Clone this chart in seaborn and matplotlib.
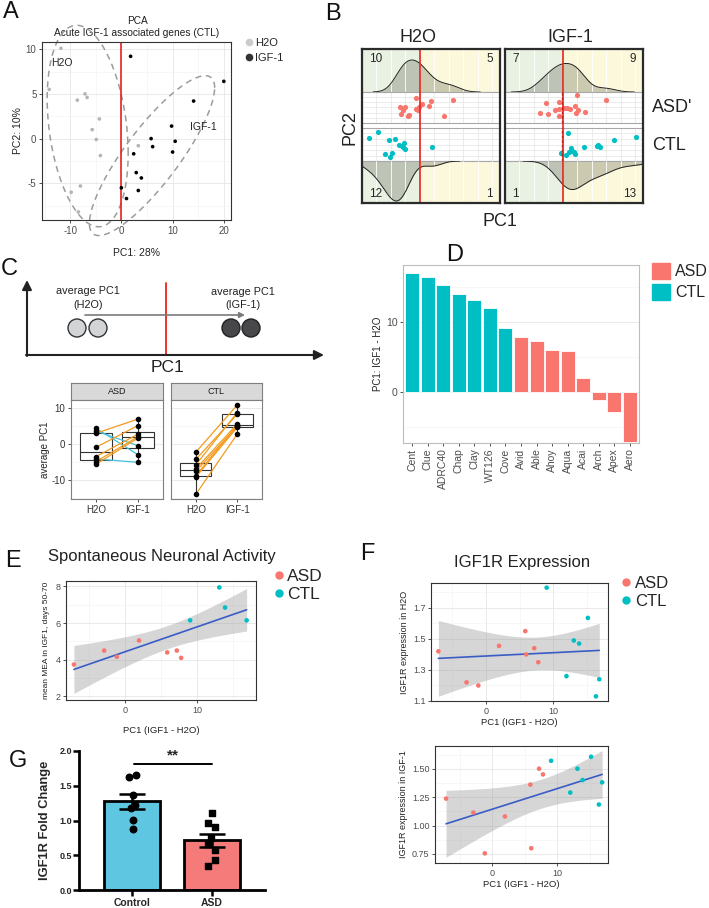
"""
Multi-panel figure: IGF-1 response of ASD / CTL lines (panels A-G)
"""

import numpy as np
import pandas as pd
import matplotlib
matplotlib.use('Agg')
import matplotlib.pyplot as plt
import seaborn as sns
from matplotlib.lines import Line2D
from matplotlib.patches import Circle, Patch

# ---------------- data ----------------
# A: PCA scores, acute IGF-1 associated genes (CTL)
a_h2o_pc1 = [-11.8, -14.1, -8.6, -7.1, -6.7, -4.3, -5.7, -4.9, -4.1, 3.3, -9.8, -8.0, -8.4]
a_h2o_pc2 = [10.1, 5.5, 4.3, 5.0, 4.6, 2.2, 1.0, -0.1, -1.9, -0.8, -6.0, -5.3, -8.2]
a_igf_pc1 = [1.8, 20.0, 14.1, 9.8, 5.8, 10.5, 6.1, 2.4, 10.0, 2.9, 3.9, 3.3, 0.0, 1.0]
a_igf_pc2 = [9.2, 6.4, 4.2, 1.4, 0.0, -0.3, -0.9, -1.7, -1.5, -3.8, -4.4, -5.8, -5.5, -6.7]

# B: projected PC1 / PC2 per condition (PC2 scaled to 0-1 inside each row)
b_h2o_asd_x = [-0.7, 1.9, 5.7, -3.4, -2.6, 0.3, -0.2, -0.7, -0.3, 1.6, -3.3, -2.1, -1.9, 4.1, -2.9]
b_h2o_asd_y = [0.86, 0.76, 0.79, 0.52, 0.52, 0.62, 0.52, 0.45, 0.41, 0.55, 0.24, 0.17, 0.21, 0.17, 0.41]
b_h2o_ctl_x = [-8.8, -7.2, -5.3, -4.3, -3.6, -3.1, -2.8, -2.6, -2.9, -6.0, -4.8, -5.2, 2.1]
b_h2o_ctl_y = [0.72, 0.94, 0.66, 0.69, 0.50, 0.44, 0.56, 0.34, 0.41, 0.16, 0.19, 0.06, 0.41]
b_igf_asd_x = [-2.9, -4.0, -2.6, -1.4, -0.7, -0.7, -0.7, 0.2, 0.7, 1.2, 2.1, 2.6, 3.8, 7.4, 2.4, 2.2]
b_igf_asd_y = [0.66, 0.31, 0.24, 0.41, 0.72, 0.45, 0.17, 0.48, 0.48, 0.45, 0.55, 0.41, 0.34, 0.79, 0.97, 0.31]
b_igf_ctl_x = [0.9, -0.3, 0.5, 1.4, 1.9, 2.1, 3.6, 6.0, 6.4, 8.8, 12.6, 1.6, 1.0, 5.9]
b_igf_ctl_y = [0.91, 0.19, 0.12, 0.38, 0.22, 0.16, 0.41, 0.50, 0.41, 0.66, 0.75, 0.28, 0.25, 0.44]
b_igf_dash_x = -0.2

# C: average PC1 per line, paired H2O -> IGF-1
c_asd_h2o = [4.35, 3.6, 2.96, -0.93, -3.5, -4.2, -4.9, -5.6]
c_asd_igf = [-3.0, -0.5, 6.9, 5.1, 2.7, -5.1, 2.0, 1.6]
c_ctl_h2o = [-2.3, -4.3, -5.8, -6.9, -7.6, -8.8, -9.2, -14.0]
c_ctl_igf = [10.8, 8.2, 8.7, 5.5, 4.9, 5.1, 4.6, 2.7]

# D: PC1 shift (IGF1 - H2O) per line
d_lines = ['Cent', 'Clue', 'ADRC40', 'Chap', 'Clay', 'WT126', 'Cove',
           'Avid', 'Able', 'Ahoy', 'Aqua', 'Acai', 'Arch', 'Apex', 'Aero']
d_group = ['CTL'] * 7 + ['ASD'] * 8
d_pc1 = [16.9, 16.4, 15.2, 13.9, 13.1, 12.0, 9.05, 7.8, 7.2, 6.0, 5.86, 1.95, -1.14, -2.9, -7.1]

# E: MEA activity vs PC1 shift
e_group = ['ASD'] * 7 + ['CTL'] * 4
e_pc1 = [-7.1, -2.9, -1.14, 1.95, 5.86, 7.2, 7.8, 9.05, 13.1, 13.9, 16.9]
e_mea = [3.74, 4.5, 4.16, 5.05, 4.4, 4.5, 4.1, 6.15, 7.95, 6.85, 6.15]

# F: IGF1R expression vs PC1 shift
f_group = ['ASD'] * 8 + ['CTL'] * 7
f_pc1 = [-7.1, -2.9, -1.14, 1.95, 5.86, 6.0, 7.2, 7.8, 9.05, 12.0, 13.1, 13.9, 15.2, 16.4, 16.9]
f_h2o = [1.42, 1.22, 1.20, 1.455, 1.55, 1.40, 1.44, 1.35, 1.83, 1.26, 1.49, 1.47, 1.635, 1.13, 1.24]
f_igf = [1.237, 1.114, 0.755, 1.08, 1.36, 0.80, 1.50, 1.45, 1.57, 1.29, 1.50, 1.40, 1.605, 1.185, 1.38]

# G: IGF1R fold change (qPCR)
g_groups = ['Control', 'ASD']
g_control = [1.63, 1.65, 1.37, 1.22, 1.18, 1.01, 0.88]
g_asd = [1.11, 0.96, 0.90, 0.745, 0.66, 0.577, 0.435, 0.35]
g_control_jit = [-0.04, 0.046, 0.008, 0.04, -0.012, 0.008, 0.008]
g_asd_jit = [-0.004, -0.05, 0.04, -0.017, -0.046, 0.037, 0.04, -0.054]

# ---------------- style ----------------
ASD_COL = '#F8766D'
CTL_COL = '#00BFC4'
RED = '#e8231c'
GREEN = '#e8f1e2'
YELLOW = '#fbf8dc'
T975 = {9: 2.262, 13: 2.160}   # t quantiles for the lm confidence band

sns.set_theme(style='white')
plt.rcParams['font.family'] = ['Liberation Sans', 'DejaVu Sans']
plt.rcParams['axes.unicode_minus'] = False

W, H = 709, 908
fig = plt.figure(figsize=(W / 100, H / 100), dpi=100)


def px_axes(l, t, r, b):
    return fig.add_axes([l / W, 1 - b / H, (r - l) / W, (b - t) / H])


def fx(px):
    return px / W


def fy(py):
    return 1 - py / H


def theme_bw(ax, border='#333333', size=6.5):
    ax.set_facecolor('white')
    for s in ax.spines.values():
        s.set_color(border)
        s.set_linewidth(0.8)
    ax.grid(True, which='major', color='#e6e6e6', lw=0.6)
    ax.grid(True, which='minor', color='#f2f2f2', lw=0.4)
    ax.set_axisbelow(True)
    ax.tick_params(which='major', length=2.5, width=0.6, color='#333333',
                   labelsize=size, pad=1.5, labelcolor='#4d4d4d',
                   bottom=True, left=True)
    ax.tick_params(which='minor', length=0)


def trob_ellipse(xy, level=0.95, nu=2.5, n_seg=150):
    # robust (t) ellipse in the spirit of ggplot2::stat_ellipse
    n, p = xy.shape
    loc = xy.mean(0)
    cov = np.cov(xy.T)
    for _ in range(300):
        d = xy - loc
        m = np.einsum('ij,jk,ik->i', d, np.linalg.inv(cov), d)
        w = (nu + p) / (nu + m)
        loc = (w[:, None] * xy).sum(0) / w.sum()
        d = xy - loc
        cov = (w[:, None] * d).T @ d / n
    dfd = n - 1
    qf = dfd / 2 * ((1 - level) ** (-2 / dfd) - 1)
    radius = np.sqrt(2 * qf)
    ang = np.linspace(0, 2 * np.pi, n_seg)
    circ = np.column_stack([np.cos(ang), np.sin(ang)])
    pts = loc + radius * circ @ np.linalg.cholesky(cov).T
    return pts[:, 0], pts[:, 1]


def lm_band(x, y):
    x = np.asarray(x, float)
    y = np.asarray(y, float)
    n = len(x)
    b, a = np.polyfit(x, y, 1)
    grid = np.linspace(x.min(), x.max(), 80)
    resid = y - (a + b * x)
    s = np.sqrt((resid ** 2).sum() / (n - 2))
    se = s * np.sqrt(1 / n + (grid - x.mean()) ** 2 / ((x - x.mean()) ** 2).sum())
    fit = a + b * grid
    t = T975[n - 2]
    return grid, fit, fit - t * se, fit + t * se


# overlay for letters, schematic and free text
ov = px_axes(0, 0, W, H)
ov.set_xlim(0, W)
ov.set_ylim(H, 0)
ov.axis('off')

for letter, (lx, ly) in {'A': (3, 1), 'B': (325, 3), 'C': (1, 258), 'D': (446, 244),
                         'E': (5, 550), 'F': (360, 543), 'G': (9, 750)}.items():
    ov.text(lx, ly, letter, fontsize=17, ha='left', va='top', color='#111111')

# ---------------- A: PCA ----------------
df_a = pd.DataFrame({
    'PC1': a_h2o_pc1 + a_igf_pc1,
    'PC2': a_h2o_pc2 + a_igf_pc2,
    'treat': ['H2O'] * len(a_h2o_pc1) + ['IGF-1'] * len(a_igf_pc1),
})
a_pal = {'H2O': '#b5b5b5', 'IGF-1': '#000000'}
ax = px_axes(42, 42, 231, 220)
theme_bw(ax, size=7)
sns.scatterplot(df_a, x='PC1', y='PC2', hue='treat', palette=a_pal, s=7,
                linewidth=0, legend=False, ax=ax, zorder=3)
for name, g in df_a.groupby('treat'):
    ex, ey = trob_ellipse(g[['PC1', 'PC2']].to_numpy())
    ax.plot(ex, ey, color='#9c9c9c', ls=(0, (4, 3)), lw=1.1, clip_on=False)
ax.axvline(0, color=RED, lw=1.2, zorder=2)
ax.set_xlim(-15.5, 21.4)
ax.set_ylim(-9.1, 10.8)
ax.set_xticks([-10, 0, 10, 20])
ax.set_xticks([-15, -5, 5, 15], minor=True)
ax.set_yticks([-5, 0, 5, 10])
ax.set_yticks([-7.5, -2.5, 2.5, 7.5], minor=True)
ax.set_xlabel('PC1: 28%', fontsize=7.5, color='#222222', labelpad=9)
ax.set_ylabel('PC2: 10%', fontsize=7.5, color='#222222', labelpad=2)
ax.text(-13.7, 8.4, 'H2O', fontsize=7.5, va='center', color='#222222')
ax.text(13.3, 1.3, 'IGF-1', fontsize=7.5, va='center', color='#222222')
ov.text(137, 21, 'PCA', fontsize=7.3, ha='center', va='center', color='#222222')
ov.text(137, 33, 'Acute IGF-1 associated genes (CTL)', fontsize=7.3, ha='center',
        va='center', color='#222222')
ax.legend(handles=[Line2D([], [], marker='o', ls='', color='#cccccc', ms=4.5, label='H2O'),
                   Line2D([], [], marker='o', ls='', color='#333333', ms=4.5, label='IGF-1')],
          loc='upper left', bbox_to_anchor=(fx(243), fy(38)), bbox_transform=fig.transFigure,
          frameon=False, fontsize=8, handletextpad=0.1, handlelength=1.0,
          labelspacing=0.45, borderaxespad=0, borderpad=0)

# ---------------- B: facetted PC1 densities ----------------
B_XMIN, B_XMAX = -10, 13.8
b_cols = {
    'H2O': (362, 500, b_h2o_asd_x, b_h2o_asd_y, b_h2o_ctl_x, b_h2o_ctl_y),
    'IGF-1': (505, 643, b_igf_asd_x, b_igf_asd_y, b_igf_ctl_x, b_igf_ctl_y),
}
tops, bots = [], []
for treat, (l, r, asd_x, asd_y, ctl_x, ctl_y) in b_cols.items():
    a_top = px_axes(l, 49, r, 92)
    a_asd = px_axes(l, 92, r, 123)
    a_ctl = px_axes(l, 128, r, 161)
    a_bot = px_axes(l, 161, r, 203)
    for a in (a_top, a_asd, a_ctl, a_bot):
        for s in a.spines.values():
            s.set_color('#a8a8a8')
            s.set_linewidth(0.8)
        a.set_xticks(np.arange(-7.5, 13.8, 2.5))
        a.tick_params(length=0, labelbottom=False, labelleft=False)
    for a in (a_top, a_bot):
        a.axvspan(B_XMIN, 0, color=GREEN, zorder=0, lw=0)
        a.axvspan(0, B_XMAX, color=YELLOW, zorder=0, lw=0)
        a.grid(axis='x', color='white', lw=0.6)
        a.set_axisbelow(False)
    for a, xs, ys, col in ((a_asd, asd_x, asd_y, ASD_COL), (a_ctl, ctl_x, ctl_y, CTL_COL)):
        a.set_facecolor('white')
        a.set_yticks([0.1, 0.3, 0.5, 0.7, 0.9])
        a.grid(True, color='#e4e4e4', lw=0.5)
        a.set_axisbelow(True)
        a.scatter(xs, ys, s=14, color=col, linewidth=0, zorder=3)
        a.set_ylim(-0.08, 1.08)
        if treat == 'IGF-1':
            a.axvline(b_igf_dash_x, color='#111111', ls=(0, (2.2, 1.5)), lw=0.9, zorder=4)
    for a, xs in ((a_top, asd_x), (a_bot, ctl_x)):
        sns.kdeplot(x=xs, ax=a, fill=True, color='#4a4e40', alpha=0.27, linewidth=0, zorder=2)
        sns.kdeplot(x=xs, ax=a, color='#222222', linewidth=0.7, zorder=3)
        a.set_xlabel('')
        a.set_ylabel('')
    n_asd_l = sum(v < 0 for v in asd_x)
    n_ctl_l = sum(v < 0 for v in ctl_x)
    a_top.text(0.05, 0.9, str(n_asd_l), transform=a_top.transAxes, fontsize=8.5, va='top')
    a_top.text(0.95, 0.9, str(len(asd_x) - n_asd_l), transform=a_top.transAxes,
               fontsize=8.5, va='top', ha='right')
    a_bot.text(0.05, 0.06, str(n_ctl_l), transform=a_bot.transAxes, fontsize=8.5, va='bottom')
    a_bot.text(0.95, 0.06, str(len(ctl_x) - n_ctl_l), transform=a_bot.transAxes,
               fontsize=8.5, va='bottom', ha='right')
    for a in (a_top, a_asd, a_ctl, a_bot):
        a.set_xlim(B_XMIN, B_XMAX)
    tops.append(a_top)
    bots.append(a_bot)
    frame = px_axes(l, 49, r, 203)
    frame.patch.set_alpha(0)
    frame.set_xlim(B_XMIN, B_XMAX)
    frame.set_ylim(0, 1)
    frame.set_xticks([])
    frame.set_yticks([])
    for s in frame.spines.values():
        s.set_color('#2b2b2b')
        s.set_linewidth(1.6)
    frame.axvline(0, color=RED, lw=1.2)

top_max = max(a.get_ylim()[1] for a in tops)
for a in tops:
    a.set_ylim(0, top_max * 1.28)
bot_max = max(a.get_ylim()[1] for a in bots)
for a in bots:
    a.set_ylim(bot_max * 1.0, 0)

ov.text(418, 38, 'H2O', fontsize=13, ha='center', va='center', color='#222222')
ov.text(570, 38, 'IGF-1', fontsize=13, ha='center', va='center', color='#222222')
ov.text(652, 107, "ASD'", fontsize=13, ha='left', va='center', color='#222222')
ov.text(652, 146, 'CTL', fontsize=13, ha='left', va='center', color='#222222')
ov.text(350, 128, 'PC2', fontsize=13, ha='center', va='center', rotation=90, color='#222222')
ov.text(500, 222, 'PC1', fontsize=13, ha='center', va='center', color='#222222')

# ---------------- C: schematic ----------------
arrow_kw = dict(arrowstyle='-|>', color='#222222', lw=1.5, mutation_scale=14, shrinkA=0, shrinkB=0)
ov.annotate('', xy=(27, 280), xytext=(27, 356), arrowprops=arrow_kw)
ov.annotate('', xy=(324, 355), xytext=(26, 355), arrowprops=arrow_kw)
ov.plot([166, 166], [283, 355], color=RED, lw=1.3)
ov.annotate('', xy=(245, 315), xytext=(85, 315),
            arrowprops=dict(arrowstyle='-|>', color='#7a7a7a', lw=1.2, mutation_scale=8,
                            shrinkA=0, shrinkB=0))
for cx in (77, 98):
    ov.add_patch(Circle((cx, 328), 9, fc='#d3d4d6', ec='#333333', lw=1))
for cx in (231, 251):
    ov.add_patch(Circle((cx, 328), 9, fc='#48484a', ec='#222222', lw=1))
ov.text(88, 291, 'average PC1', fontsize=7.8, ha='center', va='center', color='#222222')
ov.text(88, 305, '(H2O)', fontsize=7.8, ha='center', va='center', color='#222222')
ov.text(243, 292, 'average PC1', fontsize=7.8, ha='center', va='center', color='#222222')
ov.text(243, 305, '(IGF-1)', fontsize=7.8, ha='center', va='center', color='#222222')
ov.text(168, 367, 'PC1', fontsize=12.5, ha='center', va='center', color='#222222')

# ---------------- C: paired boxplots ----------------
for name, l, r, h2o, igf in (('ASD', 71, 163, c_asd_h2o, c_asd_igf),
                             ('CTL', 171, 262, c_ctl_h2o, c_ctl_igf)):
    st = px_axes(l, 383, r, 400)
    st.set_facecolor('#d9d9d9')
    st.set_xticks([])
    st.set_yticks([])
    for s in st.spines.values():
        s.set_color('#7f7f7f')
        s.set_linewidth(0.8)
    st.text(0.5, 0.5, name, transform=st.transAxes, fontsize=6.5, ha='center',
            va='center', color='#1a1a1a')
    ax = px_axes(l, 400, r, 499)
    theme_bw(ax, border='#7f7f7f', size=7)
    df_c = pd.DataFrame({'treat': ['H2O'] * len(h2o) + ['IGF-1'] * len(igf),
                         'pc1': h2o + igf})
    sns.boxplot(df_c, x='treat', y='pc1', order=['H2O', 'IGF-1'], color='white',
                linecolor='#333333', linewidth=0.8, width=0.75, showfliers=False,
                showcaps=False, ax=ax)
    for v0, v1 in zip(h2o, igf):
        ax.plot([0, 1], [v0, v1], color='#f39a1e' if v1 > v0 else '#3fc1dc', lw=0.9, zorder=3)
    ax.scatter([0] * len(h2o) + [1] * len(igf), h2o + igf, s=9, color='black', zorder=4)
    ax.set_xlim(-0.6, 1.6)
    ax.set_ylim(-15.3, 12.2)
    ax.set_yticks([-10, 0, 10])
    ax.set_yticks([-15, -5, 5], minor=True)
    ax.set_xlabel('')
    ax.tick_params(axis='x', labelsize=7, labelcolor='#333333')
    if name == 'ASD':
        ax.set_ylabel('average PC1', fontsize=7, color='#222222', labelpad=1)
        ax.tick_params(axis='y', labelsize=7, labelcolor='#333333')
    else:
        ax.set_ylabel('')
        ax.tick_params(axis='y', left=False, labelleft=False)

# ---------------- D: PC1 shift bars ----------------
df_d = pd.DataFrame({'line': d_lines, 'group': d_group, 'pc1': d_pc1})
ax = px_axes(403, 265, 639, 443)
theme_bw(ax, border='#bdbdbd', size=7.5)
sns.barplot(df_d, x='line', y='pc1', hue='group', order=d_lines,
            palette={'ASD': ASD_COL, 'CTL': CTL_COL}, dodge=False, width=0.9,
            saturation=1, edgecolor='white', linewidth=0.6, legend=False, ax=ax)
ax.set_xlim(-0.6, len(d_lines) - 0.4)
ax.set_ylim(-7.3, 18.1)
ax.set_yticks([0, 10])
ax.set_yticks([-5, 5, 15], minor=True)
ax.tick_params(axis='x', labelrotation=90, labelsize=7.5, labelcolor='#4d4d4d')
ax.set_xlabel('')
ax.set_ylabel('PC1: IGF1 - H2O', fontsize=7, color='#222222', labelpad=2)
ax.legend(handles=[Patch(color=ASD_COL, label='ASD'), Patch(color=CTL_COL, label='CTL')],
          loc='upper left', bbox_to_anchor=(fx(652), fy(263)), bbox_transform=fig.transFigure,
          frameon=False, fontsize=11.5, handlelength=1.15, handleheight=1.15,
          handletextpad=0.3, labelspacing=0.3, borderaxespad=0, borderpad=0)


def scatter_lm(ax, x, y, groups):
    grid, fit, lo, hi = lm_band(x, y)
    ax.fill_between(grid, lo, hi, color='#999999', alpha=0.4, lw=0, zorder=1)
    ax.plot(grid, fit, color='#3a5cc6', lw=1.2, zorder=2)
    df = pd.DataFrame({'x': x, 'y': y, 'g': groups})
    sns.scatterplot(df, x='x', y='y', hue='g', palette={'ASD': ASD_COL, 'CTL': CTL_COL},
                    s=11, linewidth=0, legend=False, ax=ax, zorder=3)


def group_legend(ax, x0, y0, size):
    ax.legend(handles=[Line2D([], [], marker='o', ls='', color=ASD_COL, ms=5, label='ASD'),
                       Line2D([], [], marker='o', ls='', color=CTL_COL, ms=5, label='CTL')],
              loc='upper left', bbox_to_anchor=(fx(x0), fy(y0)), bbox_transform=fig.transFigure,
              frameon=False, fontsize=size, handletextpad=0.0, handlelength=1.0,
              labelspacing=0.15, borderaxespad=0, borderpad=0)


# ---------------- E: MEA activity ----------------
ax = px_axes(66, 581, 256, 700)
theme_bw(ax, size=6.5)
scatter_lm(ax, e_pc1, e_mea, e_group)
ax.set_xlim(-8.2, 18.2)
ax.set_ylim(1.8, 8.3)
ax.set_xticks([0, 10])
ax.set_xticks([-5, 5, 15], minor=True)
ax.set_yticks([2, 4, 6, 8])
ax.set_yticks([3, 5, 7], minor=True)
ax.set_xlabel('PC1 (IGF1 - H2O)', fontsize=6.8, color='#222222', labelpad=8)
ax.set_ylabel('mean MEA in IGF1, days 50-70', fontsize=6, color='#222222', labelpad=4)
ov.text(162, 557, 'Spontaneous Neuronal Activity', fontsize=12, ha='center', va='center',
        color='#222222')
group_legend(ax, 270, 569, 12.5)

# ---------------- F: IGF1R expression ----------------
ax = px_axes(431, 583, 608, 701)
theme_bw(ax, size=6.5)
scatter_lm(ax, f_pc1, f_h2o, f_group)
ax.set_xlim(-8.2, 18.2)
ax.set_ylim(1.1, 1.86)
ax.set_xticks([0, 10])
ax.set_xticks([-5, 5, 15], minor=True)
ax.set_yticks([1.1, 1.3, 1.5, 1.7])
ax.set_yticks([1.2, 1.4, 1.6, 1.8], minor=True)
ax.set_xlabel('PC1 (IGF1 - H2O)', fontsize=6.8, color='#222222', labelpad=2)
ax.set_ylabel('IGF1R expression in H2O', fontsize=6.5, color='#222222', labelpad=3)
ov.text(522, 562, 'IGF1R Expression', fontsize=12, ha='center', va='center', color='#222222')
group_legend(ax, 618, 576, 12)

ax = px_axes(435, 746, 608, 863)
theme_bw(ax, size=6.5)
scatter_lm(ax, f_pc1, f_igf, f_group)
ax.set_xlim(-8.8, 17.8)
ax.set_ylim(0.67, 1.70)
ax.set_xticks([0, 10])
ax.set_xticks([-5, 5, 15], minor=True)
ax.set_yticks([0.75, 1.0, 1.25, 1.5])
ax.set_yticklabels(['0.75', '1.00', '1.25', '1.50'])
ax.set_yticks([0.875, 1.125, 1.375, 1.625], minor=True)
ax.set_xlabel('PC1 (IGF1 - H2O)', fontsize=6.8, color='#222222', labelpad=2)
ax.set_ylabel('IGF1R expression in IGF-1', fontsize=6.5, color='#222222', labelpad=3)

# ---------------- G: IGF1R fold change ----------------
g_vals = [g_control, g_asd]
g_means = [np.mean(v) for v in g_vals]
g_sem = [np.std(v, ddof=1) / np.sqrt(len(v)) for v in g_vals]
df_g = pd.DataFrame({'group': g_groups, 'fc': g_means})
ax = px_axes(79, 751, 265, 890)
sns.barplot(df_g, x='group', y='fc', hue='group', order=g_groups,
            palette={'Control': '#5ec6e0', 'ASD': '#f47b7a'}, width=0.69, saturation=1,
            edgecolor='black', linewidth=2.0, legend=False, ax=ax, zorder=1)
ax.errorbar([0, 1], g_means, yerr=g_sem, fmt='none', ecolor='black', elinewidth=1.8,
            capsize=9.5, capthick=1.8, zorder=3)
ax.scatter(np.array(g_control_jit), g_control, s=22, color='black', marker='o', zorder=4)
ax.scatter(1 + np.array(g_asd_jit), g_asd, s=18, color='black', marker='s', zorder=4)
ax.plot([0.03, 1.0], [1.82, 1.82], color='black', lw=1.4)
ax.text(0.51, 1.93, '**', fontsize=11, fontweight='bold', ha='center', va='center')
ax.set_xlim(-0.66, 1.66)
ax.set_ylim(0, 2.0)
ax.set_facecolor('white')
for side in ('top', 'right'):
    ax.spines[side].set_visible(False)
for side in ('left', 'bottom'):
    ax.spines[side].set_color('black')
    ax.spines[side].set_linewidth(2)
ax.set_yticks([0, 0.5, 1.0, 1.5, 2.0])
ax.set_yticklabels(['0.0', '0.5', '1.0', '1.5', '2.0'])
ax.tick_params(axis='both', length=4, width=1.8, color='black', labelsize=6.5,
               left=True, bottom=True, pad=1)
ax.tick_params(axis='x', labelsize=7.5, pad=2)
for lab in ax.get_xticklabels() + ax.get_yticklabels():
    lab.set_fontweight('bold')
ax.set_xlabel('')
ax.set_ylabel('IGF1R Fold Change', fontsize=9.3, fontweight='bold', labelpad=6)

fig.savefig('out.png', dpi=100)
